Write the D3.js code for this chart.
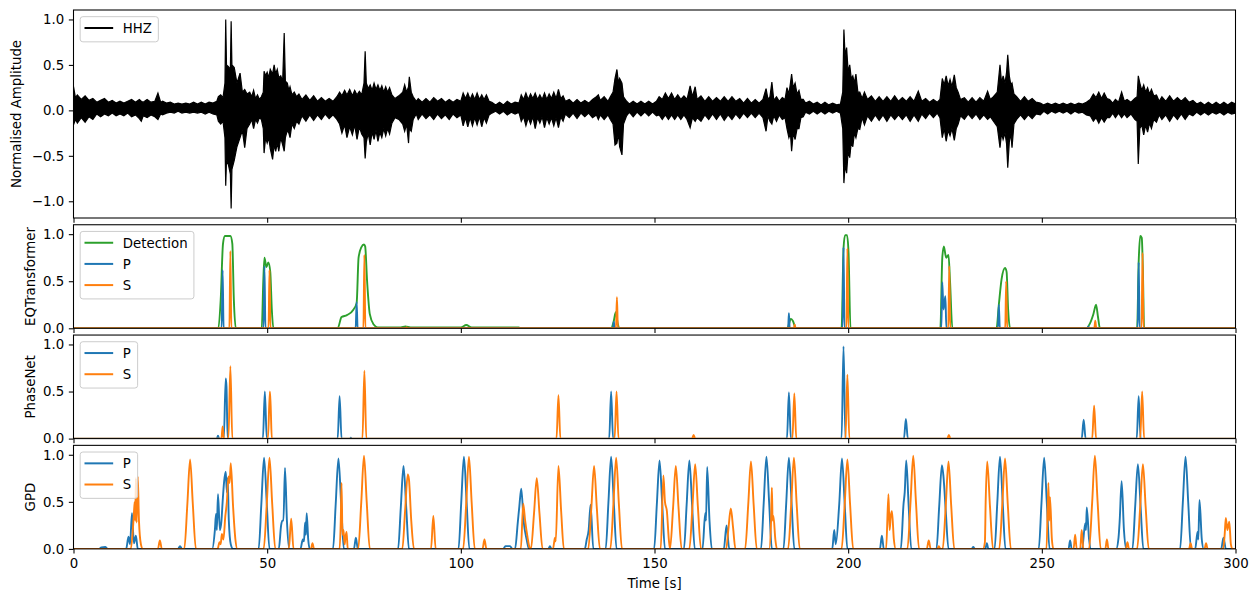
<!DOCTYPE html>
<html><head><meta charset="utf-8">
<script src="https://cdn.jsdelivr.net/npm/d3@7"></script>
<style>
html,body{margin:0;padding:0;background:#fff;}
svg{display:block;font-family:"DejaVu Sans",sans-serif;}
</style></head>
<body><svg id="c" width="1258" height="602"></svg>
<script>
// ---------------- DATA ----------------
const xTicks = [0, 50, 100, 150, 200, 250, 300];
const ampTicks = [-1.0, -0.5, 0.0, 0.5, 1.0];
const probTicks = [0.0, 0.5, 1.0];
const panelLabels = ["Normalised Amplitude", "EQTransformer", "PhaseNet", "GPD"];
const xLabel = "Time [s]";

// waveform envelope: [time s, upper, lower]
const waveEnvelope = [
[0,0.26,-0.16],[0.5,0.14,-0.1],[1,0.17,-0.14],[2,0.12,-0.08],[3,0.16,-0.13],[4,0.11,-0.07],[5,0.13,-0.1],[6,0.09,-0.04],[7,0.11,-0.07],[8,0.13,-0.04],
[9,0.09,-0.06],[10,0.11,-0.03],[11,0.08,-0.06],[12,0.1,-0.04],[13,0.08,-0.06],[14,0.1,-0.03],[15,0.12,-0.07],[16,0.09,-0.05],[17,0.12,-0.09],[17.5,0.1,-0.12],
[18,0.09,-0.06],[19,0.12,-0.08],[20,0.09,-0.05],[21,0.1,-0.07],[21.8,0.19,-0.1],[22.5,0.09,-0.04],[23,0.1,-0.05],[24,0.08,-0.03],[25,0.09,-0.02],[26,0.07,-0.03],
[27,0.08,-0.01],[28,0.07,-0.03],[29,0.08,-0.02],[30,0.07,-0.03],[31,0.09,-0.02],[32,0.07,-0.03],[33,0.09,-0.02],[34,0.07,-0.04],[35,0.09,-0.02],[36,0.08,-0.04],
[37,0.1,-0.05],[37.4,0.15,-0.12],[38,0.17,-0.15],[38.6,0.14,-0.12],
[39.1,0.3,-0.3],[39.3,1.0,-0.83],[39.5,0.5,-0.55],[40.0,0.48,-0.6],[40.5,0.45,-0.7],[40.7,0.98,-1.08],[40.9,0.5,-0.65],[41.5,0.47,-0.55],[42.2,0.3,-0.4],[43,0.41,-0.3],
[43.6,0.2,-0.22],[44.2,0.23,-0.41],[44.8,0.18,-0.2],[45.5,0.2,-0.15],[46,0.15,-0.1],[46.5,0.22,-0.2],[47,0.13,-0.1],[47.5,0.17,-0.14],[48,0.12,-0.08],[48.5,0.15,-0.1],
[49.0,0.2,-0.2],[49.2,0.43,-0.47],[49.6,0.38,-0.3],[50.0,0.42,-0.36],[50.4,0.36,-0.3],[50.8,0.45,-0.42],[51.4,0.4,-0.54],[51.8,0.5,-0.38],[52.2,0.4,-0.45],[52.6,0.45,-0.36],
[53.0,0.36,-0.45],[53.5,0.38,-0.3],[54.0,0.32,-0.38],[54.4,0.85,-0.45],[54.7,0.32,-0.3],[55.2,0.3,-0.22],[55.6,0.22,-0.25],[55.9,0.26,-0.3],[56.4,0.17,-0.15],[57,0.2,-0.2],
[57.6,0.15,-0.12],[58.2,0.18,-0.15],
[59,0.12,-0.06],[60,0.17,-0.12],[61,0.11,-0.05],[62,0.16,-0.11],[63,0.1,-0.05],[64,0.14,-0.1],[65,0.1,-0.04],[66,0.13,-0.09],[67,0.1,-0.05],[68,0.15,-0.1],
[68.7,0.2,-0.15],[69.3,0.16,-0.25],[70,0.22,-0.16],[70.6,0.17,-0.3],[71.3,0.23,-0.18],[72,0.16,-0.27],[72.6,0.22,-0.16],[73.2,0.17,-0.32],[73.8,0.21,-0.18],[74.4,0.17,-0.26],
[75.0,0.3,-0.3],[75.3,0.65,-0.53],[75.6,0.3,-0.35],[76.1,0.24,-0.25],[76.6,0.28,-0.38],[77.1,0.22,-0.24],[77.6,0.3,-0.32],[78.1,0.23,-0.22],[78.6,0.28,-0.34],[79.1,0.22,-0.24],
[79.6,0.27,-0.3],[80.1,0.2,-0.2],[80.6,0.26,-0.28],[81.1,0.2,-0.2],[81.6,0.25,-0.26],[82.2,0.17,-0.14],[83,0.13,-0.08],[84,0.16,-0.1],[85,0.2,-0.15],[85.5,0.28,-0.23],
[86,0.2,-0.15],[86.5,0.26,-0.36],[86.7,0.37,-0.2],[87.2,0.2,-0.23],[87.7,0.15,-0.1],
[88.5,0.1,-0.04],[89,0.13,-0.1],[90,0.09,-0.04],[91,0.13,-0.09],[92,0.09,-0.05],[93,0.14,-0.1],[94,0.1,-0.04],[95,0.13,-0.09],[96,0.09,-0.05],[97,0.12,-0.1],
[98,0.09,-0.04],[99,0.12,-0.08],[100,0.1,-0.05],[100.6,0.19,-0.17],[101.2,0.13,-0.08],[101.8,0.19,-0.18],[102.4,0.12,-0.08],[103,0.18,-0.17],[103.6,0.12,-0.08],[104.2,0.19,-0.16],
[104.8,0.12,-0.07],[105.4,0.17,-0.18],[106,0.12,-0.08],[106.6,0.17,-0.14],[107.3,0.1,-0.05],[108,0.09,-0.03],[109,0.06,-0.01],[110,0.09,-0.04],[111,0.06,-0.01],[112,0.1,-0.05],
[113,0.07,-0.02],[114,0.09,-0.04],[115,0.08,-0.02],[115.6,0.17,-0.12],[116.2,0.12,-0.07],[116.8,0.19,-0.17],[117.4,0.12,-0.08],[118,0.18,-0.15],[118.6,0.13,-0.07],[119.2,0.19,-0.2],
[119.8,0.12,-0.08],[120.4,0.17,-0.14],[121,0.12,-0.07],[121.6,0.19,-0.19],[122.2,0.12,-0.08],[122.8,0.18,-0.15],[123.4,0.13,-0.08],[124,0.2,-0.17],[124.6,0.13,-0.08],[125.2,0.23,-0.19],
[125.8,0.13,-0.07],[126.4,0.16,-0.12],
[127,0.1,-0.04],[128,0.12,-0.08],[129,0.08,-0.03],[130,0.12,-0.09],[131,0.08,-0.03],[132,0.11,-0.07],[133,0.08,-0.03],[134,0.12,-0.08],[135,0.15,-0.05],[135.5,0.17,-0.1],
[136,0.11,-0.05],[137,0.15,-0.1],[138,0.1,-0.05],[138.6,0.15,-0.1],[139.3,0.2,-0.15],[139.8,0.35,-0.38],[140.3,0.45,-0.36],[140.7,0.3,-0.25],[141.0,0.35,-0.4],[141.6,0.3,-0.49],
[142,0.15,-0.15],[142.8,0.1,-0.06],
[143.5,0.07,-0.02],[144.5,0.1,-0.07],[145.5,0.07,-0.02],[146.5,0.1,-0.06],[147.5,0.07,-0.02],[148.5,0.1,-0.06],[149.5,0.07,-0.02],[150.5,0.1,-0.06],[151.2,0.15,-0.05],[152,0.12,-0.1],
[152.8,0.19,-0.05],[153.6,0.13,-0.1],[154.4,0.19,-0.05],[155.2,0.12,-0.1],[156,0.17,-0.05],[156.8,0.12,-0.1],[157.6,0.16,-0.05],[158.4,0.12,-0.1],[159.2,0.27,-0.19],[159.8,0.15,-0.08],
[160.5,0.26,-0.12],[161,0.12,-0.08],[162,0.16,-0.12],[163,0.1,-0.05],[164,0.15,-0.1],[165,0.1,-0.04],[166,0.14,-0.1],[167,0.1,-0.04],[168,0.15,-0.11],[169,0.1,-0.05],
[170,0.15,-0.1],[171,0.1,-0.04],[172,0.13,-0.09],[173,0.08,-0.03],[174,0.13,-0.08],[175,0.08,-0.03],[176,0.12,-0.08],[177,0.08,-0.03],[178,0.12,-0.08],[178.8,0.24,-0.23],
[179.3,0.12,-0.06],[179.8,0.15,-0.12],[180.3,0.31,-0.15],[180.8,0.11,-0.06],[181.5,0.15,-0.12],[182.2,0.1,-0.05],[183,0.14,-0.1],[183.7,0.12,-0.08],[184.2,0.25,-0.2],[184.7,0.18,-0.3],
[185.1,0.3,-0.25],[185.4,0.4,-0.45],[185.8,0.25,-0.25],[186.3,0.3,-0.32],[186.8,0.18,-0.2],[187.3,0.22,-0.2],[187.8,0.12,-0.08],[188.4,0.12,-0.07],
[189,0.08,-0.02],[190,0.1,-0.04],[191,0.07,-0.01],[192,0.09,-0.04],[193,0.06,-0.01],[194,0.09,-0.04],[195,0.06,-0.01],[196,0.08,-0.03],[197,0.06,-0.01],[198,0.07,-0.03],
[198.6,0.2,-0.2],[198.9,0.89,-0.8],[199.2,0.6,-0.6],[199.6,0.69,-0.69],[200.0,0.42,-0.45],[200.4,0.5,-0.52],[200.8,0.35,-0.35],[201.2,0.38,-0.4],[201.6,0.3,-0.25],[202.0,0.4,-0.3],
[202.5,0.2,-0.2],[203,0.2,-0.21],[203.6,0.13,-0.08],[204.2,0.2,-0.16],[205,0.12,-0.06],[206,0.16,-0.12],[207,0.1,-0.05],[208,0.15,-0.11],[209,0.1,-0.05],[210,0.15,-0.12],
[211,0.1,-0.05],[212,0.16,-0.1],[213,0.1,-0.05],[214,0.14,-0.1],[215,0.1,-0.05],[216,0.15,-0.12],[217,0.1,-0.05],[218.1,0.21,-0.12],[219,0.1,-0.04],[220,0.13,-0.09],
[221,0.09,-0.03],[222,0.12,-0.08],[223,0.09,-0.03],[223.7,0.12,-0.08],
[224.3,0.35,-0.3],[224.8,0.28,-0.2],[225.3,0.38,-0.34],[225.8,0.27,-0.22],[226.3,0.34,-0.28],[226.8,0.26,-0.2],[227.4,0.39,-0.33],[227.9,0.25,-0.2],[228.4,0.2,-0.15],[229,0.12,-0.06],
[230,0.14,-0.1],[231,0.09,-0.04],[232,0.14,-0.09],[233,0.09,-0.04],[234,0.14,-0.1],[235,0.1,-0.05],[236,0.21,-0.1],[236.7,0.12,-0.07],[237.5,0.15,-0.12],[238.5,0.2,-0.18],
[239.2,0.5,-0.41],[239.6,0.3,-0.25],[240,0.38,-0.32],[240.5,0.3,-0.25],[240.9,0.42,-0.37],[241.2,0.61,-0.63],[241.6,0.38,-0.35],[242.0,0.28,-0.25],[242.3,0.3,-0.41],[242.8,0.18,-0.15],
[243.5,0.15,-0.1],[244.5,0.1,-0.05],[245.5,0.15,-0.1],[246.5,0.1,-0.05],[247.5,0.13,-0.09],[248.5,0.09,-0.04],[249.6,0.08,-0.05],
[250.5,0.06,-0.01],[251.5,0.08,-0.04],[252.5,0.06,-0.01],[253.5,0.08,-0.03],[254.5,0.06,-0.01],[255.5,0.08,-0.03],[256.5,0.06,-0.01],[257.5,0.08,-0.04],[258.5,0.06,-0.01],[259.5,0.08,-0.03],
[260.5,0.07,-0.02],[261.5,0.09,-0.05],[262.5,0.12,-0.06],[263.3,0.18,-0.12],[264,0.14,-0.08],[264.7,0.2,-0.14],[265.4,0.13,-0.08],[266.1,0.19,-0.13],[266.8,0.13,-0.08],[267.5,0.12,-0.08],
[268.3,0.08,-0.03],[269,0.12,-0.08],[269.8,0.09,-0.03],[270.6,0.2,-0.08],[271.3,0.1,-0.04],[272,0.12,-0.08],[273,0.09,-0.04],[274,0.13,-0.1],[274.6,0.15,-0.12],[274.9,0.38,-0.59],
[275.3,0.3,-0.2],[275.8,0.22,-0.16],[276.3,0.28,-0.27],[276.8,0.2,-0.16],[277.3,0.25,-0.24],[277.8,0.18,-0.14],[278.3,0.23,-0.2],[278.9,0.16,-0.1],[279.6,0.17,-0.13],
[280.3,0.1,-0.05],[281,0.15,-0.1],[282,0.1,-0.05],[283,0.16,-0.12],[284,0.1,-0.05],[285,0.14,-0.1],[286,0.1,-0.04],[287,0.14,-0.1],[288,0.09,-0.04],[289,0.11,-0.06],
[290,0.07,-0.02],[291,0.09,-0.05],[292,0.06,-0.02],[293,0.09,-0.05],[294,0.06,-0.02],[295,0.09,-0.04],[296,0.06,-0.02],[297,0.09,-0.05],[298,0.06,-0.02],[299,0.09,-0.04],[300,0.07,-0.03]
];

// EQTransformer
const eqtDetection = [
[0,0],[37.4,0],[38.0,0.3],[38.6,0.9],[39.1,0.98],[40.5,0.98],[41.0,0.9],[41.4,0.3],[41.9,0],
[48.6,0],[49.0,0.5],[49.3,0.75],[49.8,0.65],[50.3,0.7],[50.8,0.6],[51.2,0.2],[51.6,0],
[68.2,0],[69.2,0.12],[70.6,0.14],[72.3,0.2],[73.1,0.27],[73.6,0.75],[74.3,0.86],[75.0,0.89],[75.3,0.87],[75.8,0.5],[76.5,0.15],[77.5,0.04],[78.5,0.01],
[84.5,0.01],[85.7,0.02],[87.0,0.01],[100,0.01],[101.4,0.035],[102.8,0.01],[115,0.01],[115.2,0],
[138.8,0],[139.5,0.08],[140.0,0.17],[140.5,0.05],[141,0],
[184.3,0],[185.2,0.1],[185.7,0.08],[186.5,0],
[198.3,0],[198.8,0.85],[199.2,0.99],[199.7,0.99],[200.1,0.8],[200.6,0],
[223.8,0],[224.3,0.75],[224.7,0.87],[225.3,0.75],[225.9,0.78],[226.3,0.5],[226.9,0],
[238.3,0],[238.9,0.25],[239.6,0.52],[240.5,0.64],[240.9,0.6],[241.3,0.2],[241.8,0],
[261.5,0],[262.4,0.05],[263.3,0.15],[264.0,0.25],[264.5,0.12],[265.0,0],
[274.6,0],[275.0,0.7],[275.4,0.98],[275.8,0.96],[276.1,0.6],[276.4,0],[300,0]
];
const eqtP = [
[0,0],[38.25,0],[38.5,0.62],[38.75,0],[49.05,0],[49.3,0.66],[49.55,0],[72.85,0],[73.1,0.28],[73.35,0],
[139.3,0],[139.5,0.07],[139.7,0],[184.5,0],[184.7,0.16],[184.9,0],[198.55,0],[198.8,0.86],[199.05,0],
[224.05,0],[224.3,0.49],[224.6,0.2],[225.1,0.34],[225.35,0],[238.65,0],[238.9,0.25],[239.15,0],
[261.8,0],[262.0,0.02],[262.2,0],[274.75,0],[275.0,0.7],[275.25,0],[300,0]
];
const eqtS = [
[0,0],[40.25,0],[40.5,0.82],[40.75,0],[50.35,0],[50.6,0.62],[50.85,0],[74.85,0],[75.1,0.78],[75.35,0],
[85.8,0],[86.0,0.01],[86.2,0],[140.05,0],[140.3,0.33],[140.55,0],[186.0,0],[186.2,0.04],[186.4,0],
[199.55,0],[199.8,0.85],[200.05,0],[225.85,0],[226.1,0.66],[226.35,0],[240.55,0],[240.8,0.5],[241.05,0],
[263.55,0],[263.8,0.08],[264.05,0],[275.75,0],[276.0,0.8],[276.25,0],[300,0]
];

// PhaseNet
const pnP = [
[0,0],[37.0,0],[37.3,0.03],[37.6,0],[38.8,0],[39.3,0.64],[39.5,0.55],[39.8,0],[48.9,0],[49.4,0.5],[49.9,0],
[68.2,0],[68.7,0.45],[69.2,0],[71.4,0],[71.6,0.01],[71.8,0],[138.3,0],[138.8,0.5],[139.3,0],
[184.2,0],[184.7,0.49],[185.2,0],[198.3,0],[198.8,0.98],[199.3,0],[214.4,0],[214.9,0.21],[215.4,0],
[260.3,0],[260.8,0.2],[261.3,0],[274.5,0],[275.0,0.45],[275.5,0],[300,0]
];
const pnS = [
[0,0],[38.2,0],[38.5,0.13],[38.8,0],[40.0,0],[40.5,0.77],[41.0,0],[50.2,0],[50.7,0.5],[50.9,0.35],[51.2,0],
[74.6,0],[75.1,0.72],[75.6,0],[124.7,0],[125.2,0.46],[125.7,0],[139.7,0],[140.2,0.5],[140.7,0],
[159.7,0],[160.1,0.04],[160.5,0],[185.6,0],[186.1,0.48],[186.6,0],[199.3,0],[199.8,0.68],[200.3,0],
[225.6,0],[226.0,0.04],[226.4,0],[263.0,0],[263.5,0.35],[264.0,0],[275.4,0],[275.9,0.5],[276.4,0],[300,0]
];

// GPD
const gpdP = [
[0,0],[6.5,0],[7.2,0.015],[8.2,0.02],[8.8,0],
[13.6,0],[14.2,0.13],[14.6,0.05],[15.1,0.38],[15.6,0.06],[16.1,0.14],[16.6,0],
[27.0,0],[27.5,0.03],[28.0,0],
[35.8,0],[36.5,0.2],[36.8,0.37],[37.0,0.2],[37.3,0.58],[37.8,0.2],[38.2,0.3],[38.5,0.5],[38.9,0.72],[39.3,0.82],[39.6,0.6],[39.8,0.75],[40.1,0.3],[40.6,0.05],[41.2,0],
[47.8,0],[48.5,0.48],[49.2,0.97],[49.9,0.48],[50.6,0],
[53.0,0],[53.6,0.25],[53.9,0.3],[54.2,0.3],[54.6,0.86],[55.1,0.3],[55.7,0],
[58.6,0],[59.2,0.1],[59.5,0.08],[59.8,0.28],[60.0,0.15],[60.2,0.38],[60.6,0.1],[61.0,0],
[67.0,0],[67.7,0.48],[68.4,0.96],[69.1,0.48],[69.8,0],
[72.4,0],[72.9,0.12],[73.4,0],
[83.8,0],[84.5,0.44],[85.2,0.88],[85.9,0.44],[86.6,0],
[99.4,0],[100.1,0.49],[100.8,0.98],[101.5,0.49],[102.2,0],
[111.0,0],[111.5,0.03],[112.7,0.03],[113.3,0],
[114.0,0],[114.7,0.28],[115.1,0.45],[115.6,0.64],[116.2,0.3],[117.0,0.1],[117.6,0],
[122.6,0],[123.0,0.03],[123.4,0],
[132.0,0],[132.5,0.1],[133.0,0.2],[133.5,0.47],[134.2,0],
[137.4,0],[138.1,0.49],[138.8,0.98],[139.5,0.49],[140.2,0],
[149.9,0],[150.6,0.47],[151.3,0.94],[152.0,0.47],[152.7,0],
[157.6,0],[158.3,0.47],[159.0,0.94],[159.7,0.47],[160.4,0],
[162.4,0],[163.1,0.38],[163.3,0.3],[163.6,0.87],[164.2,0.3],[164.8,0],
[167.9,0],[168.6,0.25],[169.3,0],
[177.5,0],[178.2,0.49],[178.9,0.98],[179.6,0.49],[180.3,0],
[183.3,0],[184.0,0.48],[184.7,0.97],[185.4,0.48],[186.1,0],
[195.9,0],[196.4,0.2],[196.8,0.05],[197.7,0.48],[198.4,0.96],[199.1,0.48],[199.8,0],
[208.2,0],[208.7,0.14],[209.2,0],
[213.6,0],[214.3,0.48],[214.6,0.6],[215.0,0.94],[215.6,0.47],[216.3,0],
[222.8,0],[223.5,0.45],[224.2,0.89],[224.6,0.77],[225.2,0.4],[225.9,0],
[231.9,0],[232.3,0.02],[232.7,0],
[235.4,0],[235.8,0.06],[236.2,0],
[237.8,0],[238.5,0.49],[239.2,0.98],[239.9,0.49],[240.6,0],
[249.2,0],[249.9,0.48],[250.6,0.97],[251.3,0.48],[252.0,0],
[256.9,0],[257.3,0.09],[257.7,0],
[260.4,0],[261.2,0.27],[261.4,0.2],[261.6,0.44],[262.2,0.1],[262.7,0],
[269.2,0],[269.8,0.12],[270.1,0.3],[270.6,0.72],[271.2,0.2],[271.8,0],
[273.4,0],[274.1,0.45],[274.8,0.9],[275.5,0.45],[276.2,0],
[285.7,0],[286.4,0.49],[287.1,0.98],[287.8,0.49],[288.5,0],
[289.6,0],[290.2,0.18],[290.4,0.1],[290.7,0.52],[291.3,0.1],[291.8,0],
[296.3,0],[296.9,0.12],[297.5,0],[300,0]
];
const gpdS = [
[0,0],[14.8,0],[15.4,0.25],[15.6,0.38],[15.8,0.5],[15.95,0.3],[16.1,0.75],[16.3,0.28],[16.6,0.77],[16.9,0.3],[17.4,0.05],[17.9,0],
[21.8,0],[22.3,0.09],[22.8,0],
[28.6,0],[29.4,0.48],[30.1,0.95],[30.8,0.48],[31.6,0],
[37.2,0],[37.7,0.07],[38.0,0.05],[38.3,0.16],[38.7,0.1],[39.2,0.35],[39.6,0.5],[40.0,0.77],[40.3,0.7],[40.6,0.91],[41.2,0.45],[41.8,0.1],[42.3,0],
[49.1,0],[49.9,0.48],[50.6,0.97],[51.3,0.48],[52.1,0],
[55.6,0],[56.2,0.32],[56.8,0],
[61.3,0],[61.7,0.06],[62.1,0],
[68.7,0],[69.0,0.3],[69.2,0.7],[69.45,0.15],[69.7,0.2],[70.0,0.05],[70.2,0.12],[70.5,0.18],[70.8,0],
[73.5,0],[74.3,0.5],[75.0,0.99],[75.7,0.5],[76.5,0],
[84.9,0],[85.6,0.4],[86.3,0.79],[86.6,0.74],[87.2,0.3],[87.9,0],
[92.3,0],[92.9,0.35],[93.5,0],
[100.6,0],[101.4,0.49],[102.1,0.98],[102.8,0.49],[103.6,0],
[105.6,0],[106.1,0.1],[106.6,0],
[115.5,0],[116.1,0.48],[116.6,0.3],[117.2,0.13],[117.7,0.02],
[118.1,0],[118.9,0.38],[119.6,0.75],[120.3,0.38],[121.1,0],
[123.8,0],[124.3,0.12],[124.5,0.08],[125.2,0.88],[125.9,0.4],[126.6,0],
[132.9,0],[133.7,0.44],[134.4,0.88],[135.1,0.44],[135.9,0],
[138.6,0],[139.4,0.48],[140.1,0.97],[140.8,0.48],[141.6,0],
[151.6,0],[152.3,0.78],[152.7,0.5],[153.2,0.4],[153.7,0.1],[154.0,0],
[154.8,0.44],[155.5,0.88],[156.2,0.44],[157.0,0],
[159.0,0],[159.8,0.45],[160.5,0.9],[161.2,0.45],[162.0,0],
[168.5,0],[169.1,0.22],[169.7,0.43],[170.3,0.22],[170.9,0],
[173.4,0],[174.2,0.47],[174.9,0.93],[175.6,0.47],[176.4,0],
[179.6,0],[180.1,0.3],[180.3,0.65],[180.5,0.3],[180.7,0.35],[181.2,0.1],[181.6,0],
[184.5,0],[185.3,0.48],[186.0,0.97],[186.7,0.48],[187.5,0],
[198.3,0],[199.1,0.47],[199.8,0.95],[200.5,0.47],[201.3,0],
[209.8,0],[210.4,0.58],[210.7,0.2],[211.0,0.35],[211.3,0.4],[211.8,0.1],[212.3,0],
[215.3,0],[216.1,0.5],[216.8,0.99],[217.5,0.5],[218.3,0],
[220.3,0],[220.8,0.09],[221.3,0],
[223.0,0],[223.4,0.03],[223.8,0],
[224.4,0],[225.2,0.46],[225.9,0.93],[226.6,0.46],[227.4,0],
[234.8,0],[235.3,0.07],[235.5,0.5],[235.9,0.93],[236.6,0.46],[237.4,0],
[239.0,0],[239.8,0.48],[240.5,0.96],[241.2,0.48],[242.0,0],
[251.2,0],[251.7,0.7],[251.9,0.3],[252.1,0.55],[252.6,0.1],[253.0,0],
[258.2,0],[258.6,0.15],[259.0,0],
[259.9,0],[260.3,0.2],[260.7,0],
[262.2,0],[263.0,0.5],[263.7,0.99],[264.4,0.5],[265.2,0],
[266.4,0],[266.8,0.1],[267.2,0],
[271.7,0],[272.1,0.07],[272.5,0],
[274.6,0],[275.4,0.45],[276.1,0.9],[276.8,0.45],[277.6,0],
[288.0,0],[288.4,0.06],[288.8,0],
[292.0,0],[292.4,0.06],[292.8,0],
[296.8,0],[297.2,0.15],[297.5,0.33],[297.9,0.2],[298.4,0.29],[298.8,0.05],[299.2,0],[300,0]
];

// ---------------- DRAW ----------------
const C = {blue:"#1f77b4", orange:"#ff7f0e", green:"#2ca02c", black:"#000000"};
const FS = 13.33;
const svg = d3.select("#c");
const xL = 73.5, xR = 1235.5;
const x = d3.scaleLinear().domain([0, 300]).range([xL, xR]);

const panels = [
  {top:10,     h:208,    dom:[-1.184, 1.104], ticks:ampTicks,  labelX:16.5},
  {top:224.75, h:103.55, dom:[0, 1.1],        ticks:probTicks, labelX:30.5},
  {top:335.05, h:103.55, dom:[0, 1.1],        ticks:probTicks, labelX:30.5},
  {top:445.35, h:103.55, dom:[0, 1.1],        ticks:probTicks, labelX:30.5}
];

const series = [
  [{data:null, color:C.black, label:"HHZ"}],
  [{data:eqtDetection, color:C.green, label:"Detection"},{data:eqtP, color:C.blue, label:"P"},{data:eqtS, color:C.orange, label:"S"}],
  [{data:pnP, color:C.blue, label:"P"},{data:pnS, color:C.orange, label:"S"}],
  [{data:gpdP, color:C.blue, label:"P"},{data:gpdS, color:C.orange, label:"S"}]
];

const tickLen = 4.67, tickPad = 4.67;

panels.forEach((p, i) => {
  const y = d3.scaleLinear().domain(p.dom).range([p.top + p.h, p.top]);
  const g = svg.append("g");
  const clipId = "clip" + i;
  svg.append("clipPath").attr("id", clipId).append("rect")
    .attr("x", xL).attr("y", p.top).attr("width", xR - xL).attr("height", p.h);
  const plot = g.append("g").attr("clip-path", `url(#${clipId})`);

  if (i === 0) {
    const area = d3.area().x(d => x(d[0])).y0(d => y(d[2])).y1(d => y(d[1]));
    plot.append("path").datum(waveEnvelope).attr("d", area)
      .attr("fill", C.black).attr("stroke", C.black).attr("stroke-width", 1.2).attr("stroke-linejoin", "miter");
  } else {
    const line = d3.line().x(d => x(d[0])).y(d => y(d[1])).curve(d3.curveMonotoneX);
    series[i].forEach(s => {
      plot.append("path").datum(s.data).attr("d", line)
        .attr("fill", "none").attr("stroke", s.color).attr("stroke-width", 1.9).attr("stroke-linejoin", "round");
    });
  }

  const ya = g.append("g").attr("transform", `translate(${xL},0)`)
    .call(d3.axisLeft(y).tickValues(p.ticks).tickFormat(d3.format(".1f")).tickSize(tickLen).tickPadding(tickPad).tickSizeOuter(0));
  const xa = g.append("g").attr("transform", `translate(0,${p.top + p.h})`)
    .call(d3.axisBottom(x).tickValues(xTicks).tickFormat(i === 3 ? d3.format("d") : () => "").tickSize(tickLen).tickPadding(tickPad).tickSizeOuter(0));
  [ya, xa].forEach(a => {
    a.select(".domain").remove();
    a.selectAll("line").attr("stroke", "#000").attr("stroke-width", 1.07);
    a.selectAll("text").attr("font-family", "DejaVu Sans").attr("font-size", FS).attr("fill", "#000");
  });

  g.append("rect").attr("x", xL).attr("y", p.top).attr("width", xR - xL).attr("height", p.h)
    .attr("fill", "none").attr("stroke", "#000").attr("stroke-width", 1.07);

  g.append("text").attr("transform", `translate(${p.labelX},${p.top + p.h / 2}) rotate(-90)`)
    .attr("text-anchor", "middle").attr("dy", "0.36em")
    .attr("font-size", FS).attr("fill", "#000").text(panelLabels[i]);

  // legend
  const lg = g.append("g");
  const bx = xL + 6.67, by = p.top + 6.67;
  const items = series[i];
  const rowH = 14.5, sp = 6.67, bp = 5.33, hl = 26.67, htp = 10.67;
  const frame = lg.append("rect");
  let maxW = 0;
  items.forEach((s, k) => {
    const ly = by + bp + 6 + k * (rowH + sp);
    lg.append("line").attr("x1", bx + bp).attr("x2", bx + bp + hl).attr("y1", ly).attr("y2", ly)
      .attr("stroke", s.color).attr("stroke-width", 2).attr("stroke-linecap", "square");
    const t = lg.append("text").attr("x", bx + bp + hl + htp).attr("y", ly + 4.8)
      .attr("font-size", FS).attr("fill", "#000").text(s.label);
    maxW = Math.max(maxW, t.node().getComputedTextLength());
  });
  const bw = bp + hl + htp + maxW + bp + 1;
  const bh = 2 * bp + items.length * rowH + (items.length - 1) * sp;
  frame.attr("x", bx).attr("y", by).attr("width", bw).attr("height", bh).attr("rx", 2.7)
    .attr("fill", "#fff").attr("fill-opacity", 0.8).attr("stroke", "#cccccc").attr("stroke-width", 1);
});

svg.append("text").attr("x", (xL + xR) / 2).attr("y", 588).attr("text-anchor", "middle")
  .attr("font-size", FS).attr("fill", "#000").text(xLabel);
</script></body></html>
